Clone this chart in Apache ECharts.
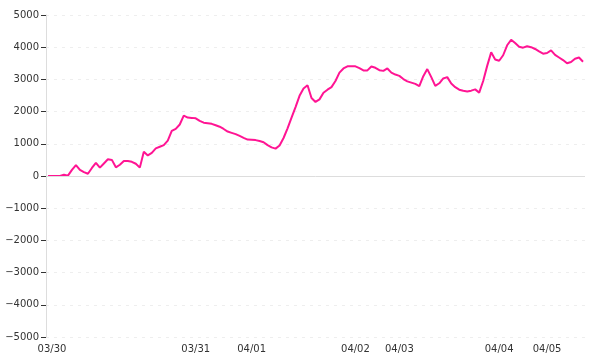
<!DOCTYPE html>
<html>
<head>
<meta charset="utf-8">
<script src="https://cdn.jsdelivr.net/npm/echarts@6/dist/echarts.min.js"></script>
<style>html,body{margin:0;padding:0;background:#fff;}#c{width:600px;height:360px;}</style>
</head>
<body>
<div id="c"></div>
<script>
// Series values (one per trading interval)
var values = [
  0, 0, 0, 0, 40, 10, 190, 340, 190, 120,
  70, 250, 410, 260, 390, 520, 500, 270, 350, 465,
  465, 440, 380, 260, 755, 640, 720, 860, 910, 960,
  1100, 1400, 1465, 1600, 1875, 1815, 1805, 1790, 1710, 1655,
  1640, 1620, 1575, 1530, 1460, 1380, 1340, 1300, 1245, 1185,
  1130, 1125, 1115, 1085, 1050, 960, 890, 850, 950, 1180,
  1480, 1810, 2140, 2490, 2720, 2820, 2420, 2300, 2380, 2585,
  2680, 2760, 2950, 3210, 3340, 3405, 3405, 3405, 3350, 3280,
  3280, 3400, 3360, 3285, 3265, 3340, 3210, 3150, 3110, 3010,
  2940, 2900, 2860, 2790, 3100, 3320, 3070, 2800, 2880, 3030,
  3070, 2870, 2760, 2680, 2645, 2625, 2650, 2690, 2590, 2950,
  3420, 3840, 3620, 3580, 3750, 4060, 4230, 4130, 4015, 3985,
  4030, 4000, 3945, 3870, 3800, 3820, 3900, 3760, 3680, 3600,
  3500, 3540, 3640, 3680, 3550
];
// Day tick labels and the index of the point where each day starts
var dayLabels = ['03/30', '03/31', '04/01', '04/02', '04/03', '04/04', '04/05'];
var dayStartIndex = [1, 37, 51, 77, 88, 113, 125];
// Y axis ticks
var yMin = -5000, yMax = 5000, yStep = 1000;

var categories = values.map(function (v, i) { return String(i); });

var chart = echarts.init(document.getElementById('c'), null, {renderer: 'canvas'});
chart.setOption({
  animation: false,
  backgroundColor: '#fff',
  textStyle: {fontFamily: 'DejaVu Sans'},
  grid: {left: 46, right: 15, top: 15, bottom: 23},
  xAxis: {
    type: 'category',
    data: categories,
    boundaryGap: true,
    axisLine: {show: false, onZero: false},
    axisTick: {show: false},
    splitLine: {show: false},
    axisLabel: {
      color: '#333', fontSize: 10, margin: 7,
      interval: function (idx) { return dayStartIndex.indexOf(idx) >= 0; },
      formatter: function (val, idx) {
        var k = dayStartIndex.indexOf(Number(val));
        return k >= 0 ? dayLabels[k] : '';
      }
    }
  },
  yAxis: {
    type: 'value',
    min: yMin, max: yMax, interval: yStep,
    axisLine: {show: true, lineStyle: {color: '#ddd', width: 1}},
    axisTick: {show: true, length: 5, lineStyle: {color: '#333', width: 1}},
    axisLabel: {
      color: '#333', fontSize: 10, margin: 7,
      formatter: function (v) { return v < 0 ? '\u2212' + String(-v) : String(v); }
    },
    splitLine: {show: true, lineStyle: {color: '#eee', type: [3, 5], width: 1}}
  },
  series: [{
    type: 'line',
    data: values,
    showSymbol: false,
    symbol: 'none',
    smooth: false,
    lineStyle: {color: '#ff1493', width: 2},
    itemStyle: {color: '#ff1493'},
    markLine: {
      silent: true,
      symbol: 'none',
      label: {show: false},
      lineStyle: {color: '#ddd', type: 'solid', width: 1},
      data: [{yAxis: 0}],
      animation: false
    }
  }]
});
</script>
</body>
</html>
